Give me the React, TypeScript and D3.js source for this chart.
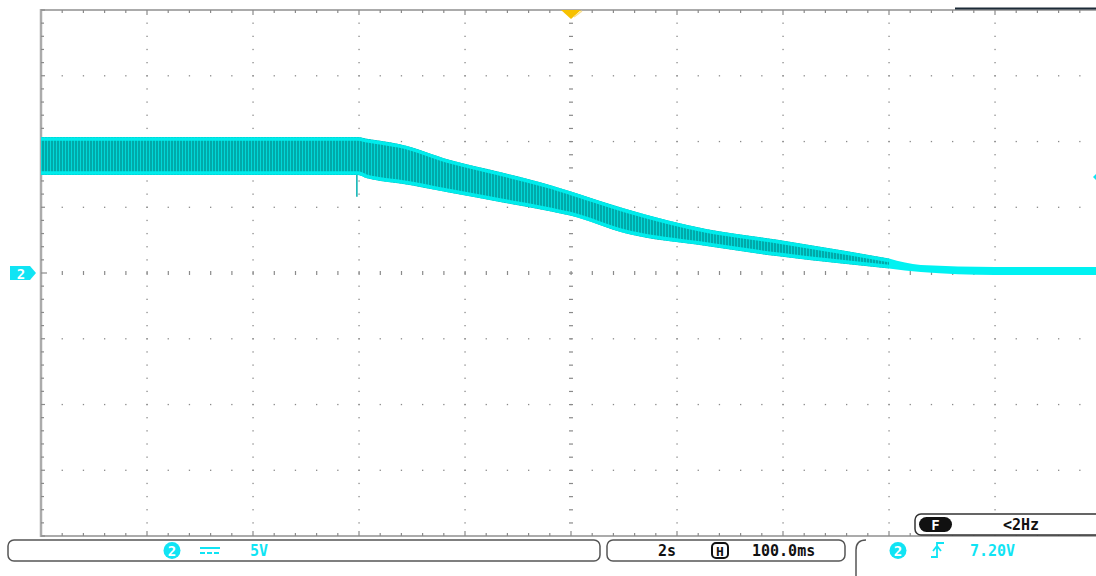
import React, { useEffect, useRef } from "react";
import * as d3 from "d3";

// Waveform envelope (channel 2), time in seconds across the 10-division screen (2 s/div)
const timeS = [0, 5.98, 6.15, 6.4, 6.77, 7.72, 8.66, 9.6, 10.0, 11.04, 12.55, 13.87, 15.19, 16.0, 16.6, 18.0, 20.0];
const upperV = [10.34, 10.34, 10.2, 10.05, 9.8, 8.6, 7.68, 6.7, 6.2, 4.87, 3.35, 2.55, 1.67, 1.1, 0.61, 0.46, 0.46];
const lowerV = [7.45, 7.45, 7.2, 7.0, 6.8, 6.1, 5.4, 4.7, 4.35, 3.0, 2.05, 1.29, 0.68, 0.35, 0.08, -0.15, -0.15];
const spikeT = [5.96];
const spikeV = [5.8];
const tailStartS = 16.0;

// Scope readouts
const chScaleLabel = "5V";
const timebaseLabel = "2s";
const delayLabel = "100.0ms";
const trigLevelLabel = "7.20V";
const freqLabel = "<2Hz";
const trigLevelV = 7.3;

const W = 1096;
const H = 576;

export default function App() {
  const ref = useRef<SVGSVGElement | null>(null);

  useEffect(() => {
    const svg = d3.select(ref.current);
    svg.selectAll("*").remove();

    const x = d3.scaleLinear().domain([0, 20]).range([41, 1101]);
    const y = d3.scaleLinear().domain([-20, 20]).range([536, 10]);

    const defs = svg.append("defs");
    const pat = defs
      .append("pattern")
      .attr("id", "stripes")
      .attr("patternUnits", "userSpaceOnUse")
      .attr("width", 3)
      .attr("height", 4);
    pat.append("rect").attr("width", 3).attr("height", 4).attr("fill", "#00a9a9");
    pat.append("rect").attr("x", 2).attr("width", 1).attr("height", 4).attr("fill", "#00d8d8");

    const g = svg.append("g");
    const gridColor = "#8a8a8a";

    const majorT = d3.range(0, 20.01, 2);
    const minorT = d3.range(0, 20.01, 0.4);
    const majorV = d3.range(-20, 20.01, 5);
    const minorV = d3.range(-20, 20.01, 1);

    majorT.forEach((t) => {
      if (t === 0) return;
      minorV.forEach((v) => {
        if (t === 10) {
          g.append("rect").attr("x", x(t) - 2).attr("y", y(v) - 0.5).attr("width", 4).attr("height", 1.2).attr("fill", gridColor);
        } else {
          g.append("rect").attr("x", x(t) - 0.6).attr("y", y(v) - 0.6).attr("width", 1.3).attr("height", 1.3).attr("fill", gridColor);
        }
      });
    });
    majorV.forEach((v) => {
      if (v === 20 || v === -20) return;
      minorT.forEach((t) => {
        if (t === 0) return;
        if (v === 0) {
          g.append("rect").attr("x", x(t) - 0.5).attr("y", y(v) - 2).attr("width", 1.2).attr("height", 4).attr("fill", gridColor);
        } else {
          g.append("rect").attr("x", x(t) - 0.6).attr("y", y(v) - 0.6).attr("width", 1.3).attr("height", 1.3).attr("fill", gridColor);
        }
      });
    });

    const axisColor = "#ababab";
    g.append("line").attr("x1", x(0)).attr("x2", W).attr("y1", y(20)).attr("y2", y(20)).attr("stroke", axisColor).attr("stroke-width", 2);
    g.append("line").attr("x1", x(0)).attr("x2", W).attr("y1", y(-20)).attr("y2", y(-20)).attr("stroke", axisColor).attr("stroke-width", 2);
    g.append("line").attr("x1", x(0)).attr("x2", x(0)).attr("y1", y(20) - 1).attr("y2", y(-20) + 1).attr("stroke", axisColor).attr("stroke-width", 2.5);
    g.append("line").attr("x1", 955).attr("x2", W).attr("y1", y(20) - 1.5).attr("y2", y(20) - 1.5).attr("stroke", "#1c2b38").attr("stroke-width", 2);

    minorT.forEach((t) => {
      if (t === 0) return;
      const isMajor = Math.abs(t / 2 - Math.round(t / 2)) < 1e-6;
      const len = isMajor ? 5 : 3;
      g.append("line").attr("x1", x(t)).attr("x2", x(t)).attr("y1", y(20)).attr("y2", y(20) + len).attr("stroke", gridColor).attr("stroke-width", 1.2);
      g.append("line").attr("x1", x(t)).attr("x2", x(t)).attr("y1", y(-20)).attr("y2", y(-20) - len).attr("stroke", gridColor).attr("stroke-width", 1.2);
    });
    minorV.forEach((v) => {
      const isMajor = v % 5 === 0;
      const len = v === 0 ? 6 : isMajor ? 4 : 3;
      g.append("line").attr("x1", x(0)).attr("x2", x(0) + len).attr("y1", y(v)).attr("y2", y(v)).attr("stroke", gridColor).attr("stroke-width", 1.2);
    });

    // waveform
    const data = timeS.map((t, i) => ({ t, u: upperV[i], l: lowerV[i] }));
    const area = d3
      .area<{ t: number; u: number; l: number }>()
      .x((d) => x(d.t))
      .y0((d) => y(d.l))
      .y1((d) => y(d.u))
      .curve(d3.curveMonotoneX);
    const mainData = data.filter((d) => d.t <= tailStartS + 0.01);
    const tailData = data.filter((d) => d.t >= tailStartS - 0.01);
    g.append("path").attr("d", area(tailData) || "").attr("fill", "#00f2f2");
    g.append("path").attr("d", area(mainData) || "").attr("fill", "url(#stripes)");
    const upLine = d3.line<{ t: number; u: number; l: number }>().x((d) => x(d.t)).y((d) => y(d.u) + 2).curve(d3.curveMonotoneX);
    const loLine = d3.line<{ t: number; u: number; l: number }>().x((d) => x(d.t)).y((d) => y(d.l) - 2).curve(d3.curveMonotoneX);
    g.append("path").attr("d", upLine(mainData) || "").attr("fill", "none").attr("stroke", "#00ecec").attr("stroke-width", 3.5);
    g.append("path").attr("d", loLine(mainData) || "").attr("fill", "none").attr("stroke", "#00ecec").attr("stroke-width", 3.5);
    spikeT.forEach((t, i) => {
      g.append("line").attr("x1", x(t)).attr("x2", x(t)).attr("y1", y(lowerV[0])).attr("y2", y(spikeV[i])).attr("stroke", "#00b0b0").attr("stroke-width", 1.5);
    });

    // channel 2 ground marker
    const gy = y(0);
    g.append("path")
      .attr("d", `M10,${gy - 7} L30,${gy - 7} L36,${gy} L30,${gy + 7} L10,${gy + 7} Z`)
      .attr("fill", "#10e4f4");
    g.append("text").attr("x", 21).attr("y", gy + 5.5).attr("text-anchor", "middle").attr("fill", "#fff")
      .attr("font-family", "DejaVu Sans Mono").attr("font-weight", "bold").attr("font-size", 14).text("2");

    const ty = y(trigLevelV);
    g.append("path").attr("d", `M${W},${ty - 3} L${W - 3},${ty} L${W},${ty + 3} Z`).attr("fill", "#10e4f4");

    const tx = x(10);
    g.append("path").attr("d", `M${tx - 10},${y(20)} L${tx + 10},${y(20)} L${tx},${y(20) + 9} Z`).attr("fill", "#f7c100");
    g.append("path").attr("d", `M${tx + 3},${y(20) + 7} L${tx + 11},${y(20) + 1}`).attr("stroke", "#fbe08a").attr("stroke-width", 1.5);

    const mono = "DejaVu Sans Mono";
    const box = (x1: number, x2: number, y1: number, y2: number) =>
      g.append("rect").attr("x", x1).attr("y", y1).attr("width", x2 - x1).attr("height", y2 - y1).attr("rx", 6)
        .attr("fill", "none").attr("stroke", "#555").attr("stroke-width", 1.5);
    box(8, 600, 540, 561);
    box(607, 845, 540, 561);
    g.append("path").attr("d", `M866,540 Q856,540 856,550 L856,576`).attr("fill", "none").attr("stroke", "#555").attr("stroke-width", 1.5);

    const cyan = "#10e4f4";
    const circled = (cx: number, cy: number) => {
      g.append("circle").attr("cx", cx).attr("cy", cy).attr("r", 8.5).attr("fill", cyan);
      g.append("text").attr("x", cx).attr("y", cy + 5).attr("text-anchor", "middle").attr("fill", "#fff")
        .attr("font-family", mono).attr("font-weight", "bold").attr("font-size", 14).text("2");
    };
    circled(172, 550.5);
    g.append("line").attr("x1", 200).attr("x2", 220).attr("y1", 548).attr("y2", 548).attr("stroke", cyan).attr("stroke-width", 2);
    g.append("line").attr("x1", 200).attr("x2", 220).attr("y1", 553).attr("y2", 553).attr("stroke", cyan).attr("stroke-width", 2).attr("stroke-dasharray", "5,2");
    g.append("text").attr("x", 250).attr("y", 556).attr("fill", cyan).attr("font-family", mono).attr("font-weight", "bold").attr("font-size", 15).text(chScaleLabel);

    g.append("text").attr("x", 658).attr("y", 556).attr("fill", "#111").attr("font-family", mono).attr("font-weight", "bold").attr("font-size", 15).text(timebaseLabel);
    g.append("rect").attr("x", 712).attr("y", 543).attr("width", 16).attr("height", 15).attr("rx", 4).attr("fill", "none").attr("stroke", "#111").attr("stroke-width", 2);
    g.append("text").attr("x", 720).attr("y", 555.5).attr("text-anchor", "middle").attr("fill", "#111").attr("font-family", mono).attr("font-weight", "bold").attr("font-size", 13).text("H");
    g.append("text").attr("x", 752).attr("y", 556).attr("fill", "#111").attr("font-family", mono).attr("font-weight", "bold").attr("font-size", 15).text(delayLabel);

    circled(898, 550.5);
    // rising-edge trigger symbol
    g.append("path").attr("d", "M931,557 L937,557 L937,543 L944,543 M933,551 L937,546 L941,551").attr("fill", "none").attr("stroke", cyan).attr("stroke-width", 1.8);
    g.append("text").attr("x", 970).attr("y", 556).attr("fill", cyan).attr("font-family", mono).attr("font-weight", "bold").attr("font-size", 15).text(trigLevelLabel);

    g.append("rect").attr("x", 915).attr("y", 514).attr("width", 200).attr("height", 21).attr("rx", 6)
      .attr("fill", "#fff").attr("stroke", "#333").attr("stroke-width", 1.5);
    g.append("rect").attr("x", 919).attr("y", 517).attr("width", 33).attr("height", 15).attr("rx", 7.5).attr("fill", "#111");
    g.append("text").attr("x", 935.5).attr("y", 529.5).attr("text-anchor", "middle").attr("fill", "#fff").attr("font-family", mono).attr("font-weight", "bold").attr("font-size", 14).text("F");
    g.append("text").attr("x", 1003).attr("y", 530).attr("fill", "#111").attr("font-family", mono).attr("font-weight", "bold").attr("font-size", 15).text(freqLabel);
  }, []);

  return (
    <svg
      ref={ref}
      width={W}
      height={H}
      style={{ position: "absolute", left: 0, top: 0, background: "#fff" }}
    />
  );
}
